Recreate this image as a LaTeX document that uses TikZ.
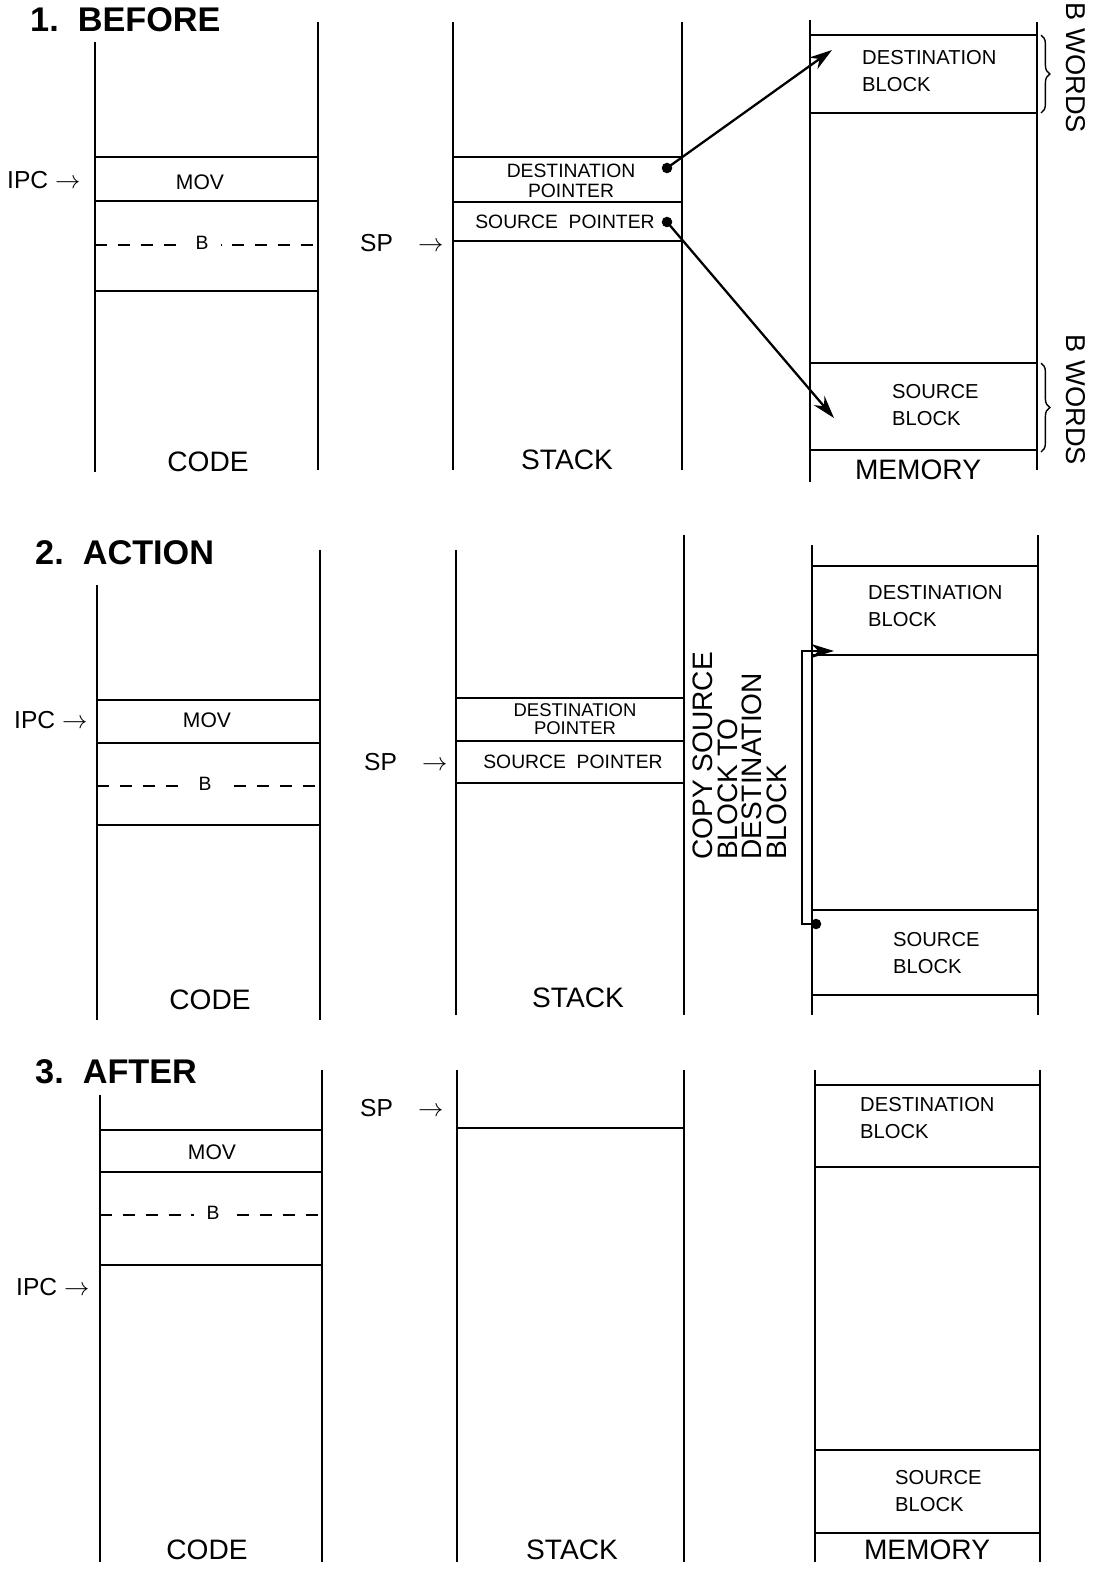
\documentclass[tikz,border=0pt]{standalone}
\usepackage{fontspec}
\setmainfont{Liberation Sans}
\usetikzlibrary{arrows.meta,decorations.pathreplacing}
\newcommand{\fsz}[1]{\fontsize{#1}{#1}\selectfont}

\begin{document}
\begin{tikzpicture}[x=0.02cm, y=-0.02cm,
    wall/.style={line width=1.1pt},
    cell/.style={line width=1.6pt},
    dashcell/.style={line width=1.6pt, dash pattern=on 7pt off 6pt},
    small/.style={font=\fsz{11}, inner sep=1pt},
    bmark/.style={font=\fsz{11}, fill=white, inner xsep=7pt, inner ysep=1pt},
    blk/.style={font=\fsz{11.5}, align=left, anchor=west, text depth=0pt},
    big/.style={font=\fsz{16}},
    ttl/.style={font=\bfseries\fsz{19.5}, anchor=west},
    ptr/.style={font=\fsz{14}, anchor=west},
    bwords/.style={font=\fsz{15.5}, rotate=-90},
    ptrdot/.style={circle, fill, inner sep=0pt, minimum size=6pt},
    brc/.style={decorate, decoration={brace, amplitude=5pt}, line width=0.8pt},
    pointer/.style={line width=1.3pt, -{Stealth[length=13pt, width=8pt]}}]

    \useasboundingbox[fill=white] (0,0) rectangle (1094,1573);

    % 1. BEFORE
    \node[ttl] (title1) at (24,20) {1.\ \ BEFORE};
    \draw[wall] (95,42) -- (95,472);
    \draw[wall] (318,22) -- (318,470);
    \foreach \y in {157,201,291} \draw[cell] (95,\y) -- (318,\y);
    \draw[dashcell] (95,245) -- (318,245);
    \node[bmark] (b1) at (202,243) {B};
    \node[small, font=\fsz{12}] (mov1) at (200,182) {MOV};
    \node[ptr] (ipc1) at (1,180) {IPC~$\rightarrow$};
    \node[big] (code1) at (208,462) {CODE};

    \draw[wall] (453,22) -- (453,470);
    \draw[wall] (682,22) -- (682,470);
    \foreach \y in {157,202,241} \draw[cell] (453,\y) -- (682,\y);
    \node[small, align=center] (dptr1) at (571,181) {DESTINATION\\POINTER};
    \node[small] (sptr1) at (565,222) {SOURCE~~POINTER};
    \node[ptr] (sp1) at (354,243) {SP\hspace{0.5cm}$\rightarrow$};
    \node[big] (stack1) at (567,460) {STACK};

    \draw[wall] (810,20) -- (810,482);
    \draw[wall] (1037,22) -- (1037,470);
    \foreach \y in {35,113,363,450} \draw[cell] (810,\y) -- (1037,\y);
    \node[blk] (dblk1) at (856,71) {DESTINATION\\[4pt]BLOCK};
    \node[blk] (sblk1) at (886,405) {SOURCE\\[4pt]BLOCK};
    \node[big] (mem1) at (918,470) {MEMORY};
    \draw[brc] (1041,35) -- (1041,113);
    \draw[brc] (1041,363) -- (1041,452);
    \node[bwords] (bw1) at (1076,68) {B WORDS};
    \node[bwords] (bw2) at (1076,400) {B WORDS};

    \node[ptrdot] (ddot1) at (667,168) {};
    \node[ptrdot] (sdot1) at (667,222) {};
    \coordinate (dtip1) at (832,50);
    \coordinate (stip1) at (834,418);
    \draw[pointer] (ddot1.center) -- (dtip1);
    \draw[pointer] (sdot1.center) -- (stip1);

    % 2. ACTION
    \node[ttl] (title2) at (29,553) {2.\ \ ACTION};
    \draw[wall] (97,585) -- (97,1020);
    \draw[wall] (320,550) -- (320,1020);
    \foreach \y in {700,743,825} \draw[cell] (97,\y) -- (320,\y);
    \draw[dashcell] (97,786) -- (320,786);
    \node[bmark] (b2) at (205,784) {B};
    \node[small, font=\fsz{12}] (mov2) at (207,720) {MOV};
    \node[ptr] (ipc2) at (8,720) {IPC~$\rightarrow$};
    \node[big] (code2) at (210,1000) {CODE};

    \draw[wall] (456,550) -- (456,1015);
    \draw[wall] (684,535) -- (684,1015);
    \foreach \y in {698,741,783} \draw[cell] (456,\y) -- (684,\y);
    \node[small, align=center, font=\fontsize{10.5}{10}\selectfont] (dptr2) at (575,719) {DESTINATION\\POINTER};
    \node[small] (sptr2) at (573,762) {SOURCE~~POINTER};
    \node[ptr] (sp2) at (358,762) {SP\hspace{0.5cm}$\rightarrow$};
    \node[big] (stack2) at (578,998) {STACK};

    \node[font=\fsz{16}, align=left, rotate=90, inner sep=0pt,
          execute at begin node=\setlength{\baselineskip}{14pt}] (copy) at (740,756)
        {COPY SOURCE\\BLOCK TO\\DESTINATION\\BLOCK};

    \draw[wall] (812,545) -- (812,1015);
    \draw[wall] (1038,535) -- (1038,1015);
    \foreach \y in {566,655,910,995} \draw[cell] (812,\y) -- (1038,\y);
    \node[blk] (dblk2) at (862,606) {DESTINATION\\[4pt]BLOCK};
    \node[blk] (sblk2) at (887,953) {SOURCE\\[4pt]BLOCK};

    \node[ptrdot] (cdot) at (816,924) {};
    \coordinate (ctip) at (834,651);
    \draw[line width=1.6pt, -{Stealth[length=13pt, width=8pt]}] (cdot.center) -- ++(-14,0) |- (ctip);

    % 3. AFTER
    \node[ttl] (title3) at (29,1072) {3.\ \ AFTER};
    \draw[wall] (100,1095) -- (100,1562);
    \draw[wall] (322,1070) -- (322,1562);
    \foreach \y in {1130,1172,1265} \draw[cell] (100,\y) -- (322,\y);
    \draw[dashcell] (100,1215) -- (322,1215);
    \node[bmark] (b3) at (213,1213) {B};
    \node[small, font=\fsz{12}] (mov3) at (212,1152) {MOV};
    \node[ptr] (ipc3) at (10,1287) {IPC~$\rightarrow$};
    \node[big] (code3) at (207,1550) {CODE};

    \draw[wall] (457,1070) -- (457,1562);
    \draw[wall] (684,1070) -- (684,1562);
    \draw[cell] (457,1128) -- (684,1128);
    \node[ptr] (sp3) at (354,1108) {SP\hspace{0.5cm}$\rightarrow$};
    \node[big] (stack3) at (572,1550) {STACK};

    \draw[wall] (815,1070) -- (815,1562);
    \draw[wall] (1040,1070) -- (1040,1562);
    \foreach \y in {1085,1167,1450,1533} \draw[cell] (815,\y) -- (1040,\y);
    \node[blk] (dblk3) at (854,1118) {DESTINATION\\[4pt]BLOCK};
    \node[blk] (sblk3) at (889,1491) {SOURCE\\[4pt]BLOCK};
    \node[big] (mem3) at (927,1550) {MEMORY};
\end{tikzpicture}
\end{document}
